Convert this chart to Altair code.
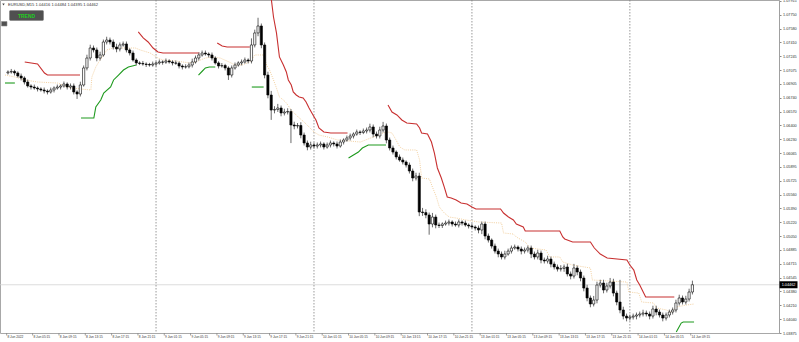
import altair as alt
import pandas as pd

# ---------------- data (30-minute candles, EURUSD) ----------------
closes = [
    1.07051, 1.07058, 1.07039, 1.07002, 1.06978, 1.06929, 1.06881, 1.06868, 1.06856, 1.06844,
    1.06832, 1.06820, 1.06808, 1.06832, 1.06856, 1.06868, 1.06881, 1.06905, 1.06868, 1.06881,
    1.06808, 1.06783, 1.06893, 1.07100, 1.07221, 1.07343, 1.07319, 1.07221, 1.07258, 1.07416,
    1.07440, 1.07416, 1.07355, 1.07331, 1.07380, 1.07392, 1.07319, 1.07282, 1.07197, 1.07161,
    1.07155, 1.07148, 1.07142, 1.07136, 1.07148, 1.07161, 1.07173, 1.07170, 1.07185, 1.07173,
    1.07161, 1.07158, 1.07124, 1.07112, 1.07115, 1.07136, 1.07173, 1.07221, 1.07258, 1.07282,
    1.07270, 1.07258, 1.07221, 1.07161, 1.07124, 1.07130, 1.07100, 1.07014, 1.07100, 1.07136,
    1.07161, 1.07173, 1.07197, 1.07185, 1.07380, 1.07526, 1.07611, 1.07380, 1.07014, 1.06771,
    1.06588, 1.06595, 1.06613, 1.06552, 1.06564, 1.06570, 1.06406, 1.06394, 1.06400, 1.06284,
    1.06187, 1.06138, 1.06163, 1.06150, 1.06163, 1.06175, 1.06138, 1.06163, 1.06187, 1.06175,
    1.06150, 1.06199, 1.06223, 1.06248, 1.06272, 1.06296, 1.06321, 1.06315, 1.06333, 1.06345,
    1.06382, 1.06296, 1.06272, 1.06345, 1.06394, 1.06223, 1.06126, 1.06077, 1.06017, 1.05980,
    1.05956, 1.05919, 1.05846, 1.05761, 1.05785, 1.05347, 1.05340, 1.05311, 1.05201, 1.05286,
    1.05189, 1.05183, 1.05201, 1.05213, 1.05226, 1.05201, 1.05189, 1.05226, 1.05213, 1.05189,
    1.05177, 1.05165, 1.05152, 1.05128, 1.05201, 1.05055, 1.05006, 1.04933, 1.04872, 1.04836,
    1.04800, 1.04836, 1.04872, 1.04909, 1.04921, 1.04897, 1.04872, 1.04885, 1.04909, 1.04836,
    1.04800, 1.04848, 1.04763, 1.04751, 1.04775, 1.04714, 1.04678, 1.04653, 1.04660, 1.04678,
    1.04593, 1.04568, 1.04666, 1.04617, 1.04544, 1.04422, 1.04301, 1.04228, 1.04276, 1.04459,
    1.04483, 1.04398, 1.04447, 1.04495, 1.04361, 1.04252, 1.04155, 1.04081, 1.04057, 1.04069,
    1.04081, 1.04094, 1.04106, 1.04118, 1.04106, 1.04081, 1.04167, 1.04130, 1.04094, 1.04057,
    1.04094, 1.04130, 1.04155, 1.04240, 1.04301, 1.04252, 1.04288, 1.04374, 1.04462,
]
first_open = 1.07040

# upper / lower shadows in pips
upper_wick = [
    2, 3, 2, 2, 3, 2, 3, 2, 3, 2, 2, 3, 2, 3, 2, 3, 2, 3, 2, 3,
    3, 2, 4, 3, 4, 4, 3, 3, 4, 3, 4, 3, 3, 4, 3, 3, 3, 2, 3, 2,
    2, 3, 2, 2, 3, 2, 3, 2, 3, 2, 2, 3, 2, 2, 3, 3, 4, 3, 3, 3,
    3, 2, 3, 2, 2, 3, 2, 2, 3, 3, 2, 3, 3, 2, 8, 4, 10, 3, 3, 4,
    5, 4, 5, 3, 4, 4, 3, 4, 3, 4, 3, 3, 4, 3, 3, 3, 2, 3, 3, 2,
    3, 3, 2, 3, 3, 2, 3, 2, 3, 3, 4, 3, 3, 4, 5, 3, 3, 3, 2, 3,
    3, 2, 3, 3, 4, 4, 5, 4, 3, 5, 3, 3, 2, 3, 3, 2, 3, 3, 2, 3,
    2, 3, 2, 3, 3, 3, 3, 2, 3, 3, 3, 4, 3, 3, 3, 2, 3, 3, 3, 3,
    3, 4, 3, 3, 4, 3, 3, 3, 4, 3, 4, 3, 5, 3, 3, 3, 4, 3, 5, 4,
    4, 4, 4, 5, 4, 3, 27, 4, 3, 3, 3, 3, 3, 4, 3, 3, 4, 4, 3, 3,
    3, 3, 3, 4, 4, 3, 4, 4, 5,
]
lower_wick = [
    2, 2, 3, 2, 3, 3, 2, 3, 2, 3, 2, 3, 3, 2, 3, 2, 3, 2, 3, 3,
    3, 6, 3, 2, 3, 3, 3, 4, 3, 2, 3, 3, 3, 4, 3, 2, 3, 3, 2, 3,
    2, 2, 3, 2, 2, 3, 2, 3, 2, 2, 3, 2, 3, 3, 2, 2, 3, 2, 3, 2,
    2, 3, 3, 2, 3, 2, 3, 6, 3, 2, 2, 3, 2, 3, 3, 3, 4, 4, 4, 4,
    12, 4, 3, 4, 3, 3, 22, 4, 3, 4, 3, 4, 3, 3, 3, 3, 3, 2, 3, 3,
    3, 2, 3, 2, 3, 3, 2, 3, 2, 3, 3, 4, 3, 3, 3, 4, 3, 3, 3, 2,
    3, 3, 3, 4, 3, 5, 4, 4, 13, 4, 4, 3, 3, 2, 3, 3, 2, 3, 3, 2,
    3, 2, 3, 4, 5, 4, 3, 3, 3, 4, 3, 3, 2, 3, 2, 3, 4, 3, 3, 5,
    3, 3, 4, 3, 3, 4, 3, 3, 3, 4, 3, 4, 3, 4, 4, 4, 4, 4, 3, 4,
    3, 4, 3, 3, 4, 4, 4, 4, 4, 3, 3, 4, 3, 3, 3, 4, 3, 4, 3, 4,
    3, 3, 3, 3, 3, 3, 3, 3, 3,
]

# trend indicator: resistance (red), support (green), middle (orange dotted)
red_k = [5.1, 9.0, 11.1, 12.0, 21.9,
         39.6, 41.1, 42.6, 44.1, 45.6, 47.1, 58.2,
         63.6, 65.1, 66.6, 73.5,
         79.5, 80.7, 81.6, 82.5, 83.7, 84.6, 85.2, 86.1, 86.7, 87.6, 88.5, 89.7, 90.6, 91.5,
         92.7, 93.6, 94.5, 96.0, 98.1, 103.2,
         115.5, 116.7, 118.2, 119.7, 121.2, 124.2, 125.1, 125.7, 127.5, 128.7, 129.6, 130.5,
         131.7, 132.6, 133.5, 134.7, 136.2, 137.7, 139.5, 141.0, 142.2, 149.7, 150.6, 152.1,
         153.6, 154.5, 156.6, 157.2, 167.7, 168.6, 169.2, 171.6, 177.0, 178.2, 180.0, 182.1,
         188.1, 189.0, 190.2, 191.1, 192.0, 193.2, 193.8, 202.5]
red_price = [1.07173, 1.07148, 1.07039, 1.07014, 1.07014,
             1.07538, 1.07465, 1.07416, 1.07343, 1.07294, 1.07282, 1.07282,
             1.07404, 1.07367, 1.07355, 1.07355,
             1.08110, 1.07720, 1.07526, 1.07234, 1.07136, 1.07051, 1.06954, 1.06893, 1.06808,
             1.06771, 1.06747, 1.06735, 1.06686, 1.06613, 1.06528, 1.06467, 1.06369, 1.06321,
             1.06309, 1.06309,
             1.06649, 1.06564, 1.06528, 1.06467, 1.06430, 1.06418, 1.06369, 1.06309, 1.06296,
             1.06199, 1.06065, 1.05883, 1.05761, 1.05651, 1.05530, 1.05518, 1.05493, 1.05457,
             1.05445, 1.05408, 1.05384, 1.05384, 1.05335, 1.05286, 1.05250, 1.05201, 1.05165,
             1.05116, 1.05116, 1.05043, 1.05019, 1.04982, 1.04982, 1.04909, 1.04836, 1.04787,
             1.04763, 1.04702, 1.04641, 1.04520, 1.04459, 1.04361, 1.04313, 1.04313]
red_seg = [1] * 5 + [2] * 7 + [3] * 4 + [4] * 20 + [5] * 44

green_k = [-0.9, 2.1,
           22.2, 26.1, 26.7, 28.2, 29.1, 31.2, 32.1, 33.6, 35.1, 36.6, 39.0,
           57.9, 59.1, 60.0, 61.2, 63.0,
           74.1, 77.7,
           103.5, 105.0, 106.5, 107.7, 109.5, 114.9,
           203.1, 204.6, 205.2, 208.5]
green_price = [1.06917, 1.06917,
               1.06491, 1.06491, 1.06625, 1.06710, 1.06795, 1.06868, 1.06954, 1.07014, 1.07075,
               1.07112, 1.07136,
               1.07014, 1.07063, 1.07100, 1.07112, 1.07112,
               1.06868, 1.06868,
               1.06004, 1.06041, 1.06077, 1.06126, 1.06163, 1.06163,
               1.03887, 1.03996, 1.04009, 1.04009]
green_seg = [1] * 2 + [2] * 11 + [3] * 5 + [4] * 2 + [5] * 6 + [6] * 4

mid_k = [-0.9, 2.1, 5.1, 7.2, 9.0, 15.0, 19.2, 25.2, 25.5, 26.7, 27.6, 29.1, 30.0, 32.1,
         38.7, 40.2, 43.2, 45.6, 47.1, 51.0, 55.2, 57.0, 60.0, 62.1, 64.5, 67.2, 69.0, 71.1,
         73.5, 75.0, 77.7, 78.6, 79.5, 80.7, 81.6, 82.5, 83.7, 84.6, 86.1, 88.2, 90.0, 91.5,
         93.0, 94.5, 97.2, 100.2, 107.1, 111.0, 114.0, 115.5, 116.7, 117.6, 119.1, 120.6,
         124.2, 125.1, 125.7, 128.1, 129.0, 130.2, 131.1, 132.6, 134.1, 136.2, 139.2, 143.1,
         150.0, 150.6, 153.6, 154.5, 157.2, 158.7, 163.5, 164.7, 167.7, 168.6, 171.6, 177.0,
         177.6, 188.1, 188.7, 191.7, 192.6, 196.2, 197.1, 200.1, 201.6, 203.1, 206.1, 208.5]
mid_price = [1.07014, 1.06990, 1.06954, 1.06941, 1.06929, 1.06917, 1.06856, 1.06832, 1.06990,
             1.07112, 1.07173, 1.07258, 1.07319, 1.07343, 1.07343, 1.07319, 1.07282, 1.07221,
             1.07197, 1.07185, 1.07161, 1.07173, 1.07221, 1.07234, 1.07221, 1.07173, 1.07136,
             1.07136, 1.07173, 1.07258, 1.07258, 1.07136, 1.07075, 1.06954, 1.06856, 1.06747,
             1.06710, 1.06674, 1.06588, 1.06503, 1.06442, 1.06382, 1.06321, 1.06284, 1.06260,
             1.06223, 1.06199, 1.06260, 1.06309, 1.06321, 1.06309, 1.06248, 1.06138, 1.06102,
             1.06102, 1.05980, 1.05761, 1.05749, 1.05651, 1.05530, 1.05408, 1.05335, 1.05286,
             1.05274, 1.05250, 1.05226, 1.05213, 1.05092, 1.05079, 1.05043, 1.04982, 1.04909,
             1.04885, 1.04800, 1.04800, 1.04739, 1.04702, 1.04666, 1.04520, 1.04495, 1.04374,
             1.04361, 1.04252, 1.04240, 1.04179, 1.04155, 1.04130, 1.04191, 1.04215, 1.04228]

day_break_k = [45, 93, 141, 189]

xlabel_k = [-0.4, 7.5, 15.5, 23.5, 31.5, 39.5, 47.5, 55.5, 63.5, 71.5, 79.5, 87.5, 95.5,
            103.5, 111.5, 119.5, 127.5, 135.5, 143.5, 151.5, 159.5, 167.5, 175.5, 183.5,
            191.5, 199.5, 207.5]
xlabel_text = ["8 Jun 2022", "8 Jun 05:15", "8 Jun 09:15", "8 Jun 13:15", "8 Jun 17:15",
               "8 Jun 21:15", "9 Jun 01:15", "9 Jun 05:15", "9 Jun 09:15", "9 Jun 13:15",
               "9 Jun 17:15", "9 Jun 21:15", "10 Jun 01:15", "10 Jun 05:15", "10 Jun 09:15",
               "10 Jun 13:15", "10 Jun 17:15", "10 Jun 21:15", "13 Jun 01:15", "13 Jun 05:15",
               "13 Jun 09:15", "13 Jun 13:15", "13 Jun 17:15", "13 Jun 21:15", "14 Jun 01:15",
               "14 Jun 05:15", "14 Jun 09:15"]

ytick_values = [1.07915, 1.07750, 1.07580, 1.07410, 1.07245, 1.07075, 1.06905, 1.06740,
                1.06570, 1.06400, 1.06230, 1.06065, 1.05895, 1.05725, 1.05560, 1.05390,
                1.05220, 1.05050, 1.04885, 1.04715, 1.04545, 1.04380, 1.04210, 1.04040,
                1.03875]

last_price = 1.04462
title_text = "EURUSD,M15  1.04416 1.04484 1.04395 1.04462"

# ---------------- build tables ----------------
opens = [first_open] + closes[:-1]
highs = [max(o, c) + u * 0.0001 for o, c, u in zip(opens, closes, upper_wick)]
lows = [min(o, c) - d * 0.0001 for o, c, d in zip(opens, closes, lower_wick)]
candles = pd.DataFrame({
    "k": list(range(len(closes))),
    "open": opens, "close": closes, "high": highs, "low": lows,
    "dir": ["up" if c >= o else "down" for o, c in zip(opens, closes)],
})
red_df = pd.DataFrame({"k": red_k, "p": red_price, "seg": red_seg})
green_df = pd.DataFrame({"k": green_k, "p": green_price, "seg": green_seg})
mid_df = pd.DataFrame({"k": mid_k, "p": mid_price})
days_df = pd.DataFrame({"k": day_break_k})
xlab_df = pd.DataFrame({"k": xlabel_k, "t": xlabel_text})
one = pd.DataFrame({"a": [0]})

xs = alt.Scale(domain=[-0.9, 232.8], nice=False, zero=False)
ys = alt.Scale(domain=[1.03875, 1.07927], nice=False, zero=False)
yaxis = alt.Axis(orient="right", values=ytick_values, format=".5f", title=None,
                 labelFontSize=3.8, labelFont="Liberation Sans", labelColor="#333333",
                 labelPadding=1.5, tickSize=2, tickColor="#888888", domainColor="#a0a0a0",
                 grid=False, labelOverlap=False, labelBound=False, labelFlush=False)

X = lambda f="k:Q": alt.X(f, scale=xs, axis=None)
Y = lambda f: alt.Y(f, scale=ys, axis=yaxis)

price_line = alt.Chart(one).mark_rule(color="#d4d4d4", strokeWidth=0.8).encode(
    y=alt.Y(datum=last_price, scale=ys, axis=yaxis))

day_rules = alt.Chart(days_df).mark_rule(color="#808080", strokeWidth=0.8,
                                         strokeDash=[1.5, 1.5]).encode(x=X())

mid_line = alt.Chart(mid_df).mark_line(color="#efc488", strokeWidth=0.8,
                                       strokeDash=[1, 1.2], clip=True).encode(
    x=X(), y=Y("p:Q"))

red_line = alt.Chart(red_df).mark_line(color="#c83030", strokeWidth=1.1, clip=True).encode(
    x=X(), y=Y("p:Q"), detail="seg:N")

green_line = alt.Chart(green_df).mark_line(color="#1e9a1e", strokeWidth=1.1, clip=True).encode(
    x=X(), y=Y("p:Q"), detail="seg:N")

wicks = alt.Chart(candles).mark_rule(color="#6a6a6a", strokeWidth=1).encode(
    x=X(), y=Y("low:Q"), y2="high:Q")

bodies = alt.Chart(candles).mark_bar(width=2.2, stroke="#000000", strokeWidth=0.6).encode(
    x=X(), y=Y("open:Q"), y2="close:Q",
    fill=alt.Fill("dir:N", scale=alt.Scale(domain=["up", "down"], range=["#ffffff", "#000000"]),
                  legend=None))

xticks = alt.Chart(xlab_df).mark_rule(color="#888888", strokeWidth=0.8).encode(
    x=X(), y=alt.value(333), y2=alt.value(335.5))
xlabels = alt.Chart(xlab_df).mark_text(align="left", baseline="top", fontSize=3.2,
                                       font="Liberation Sans", color="#333333", dx=0.8).encode(
    x=X(), y=alt.value(335), text="t:N")

price_box = alt.Chart(one).mark_tick(orient="horizontal", size=18, thickness=7,
                                     color="#000000", opacity=1).encode(
    x=alt.value(788.5), y=alt.Y(datum=last_price, scale=ys, axis=yaxis))
price_text = alt.Chart(one).mark_text(fontSize=3.8, font="Liberation Sans", color="#ffffff",
                                      align="center", baseline="middle").encode(
    x=alt.value(788.5), y=alt.Y(datum=last_price, scale=ys, axis=yaxis),
    text=alt.value("1.04462"))

title_mark = alt.Chart(one).mark_text(fontSize=4.1, font="Liberation Sans", color="#333333",
                                      align="left", baseline="middle").encode(
    x=alt.value(8), y=alt.value(4.5), text=alt.value(title_text))
title_icon = alt.Chart(one).mark_point(shape="triangle-down", filled=True, size=6,
                                       color="#444444", opacity=1).encode(
    x=alt.value(3.5), y=alt.value(4.5))
button = alt.Chart(one).mark_rect(fill="#505050", stroke="#8a8a8a", strokeWidth=0.8,
                                  cornerRadius=1).encode(
    x=alt.value(9.5), x2=alt.value(43.5), y=alt.value(10.5), y2=alt.value(20.5))
button_text = alt.Chart(one).mark_text(fontSize=5, font="Liberation Sans", fontWeight="bold",
                                       color="#22cc22", align="center", baseline="middle").encode(
    x=alt.value(26.5), y=alt.value(16), text=alt.value("TREND"))
small_box = alt.Chart(one).mark_rect(fill="#505050", stroke="#8a8a8a", strokeWidth=0.6).encode(
    x=alt.value(1.5), x2=alt.value(7), y=alt.value(21.5), y2=alt.value(26))

chart = alt.layer(
    price_line, day_rules, mid_line, red_line, green_line, wicks, bodies,
    xticks, xlabels, price_box, price_text, title_icon, title_mark, button, button_text,
    small_box,
).properties(
    width=779, height=333,
    autosize=alt.AutoSizeParams(type="none"),
    padding={"left": 0, "top": 0, "right": 20, "bottom": 9},
    background="#ffffff",
).configure_view(stroke="#a8a8a8", strokeWidth=1)

chart.save("out.html", embed_options={"renderer": "svg", "actions": False})
